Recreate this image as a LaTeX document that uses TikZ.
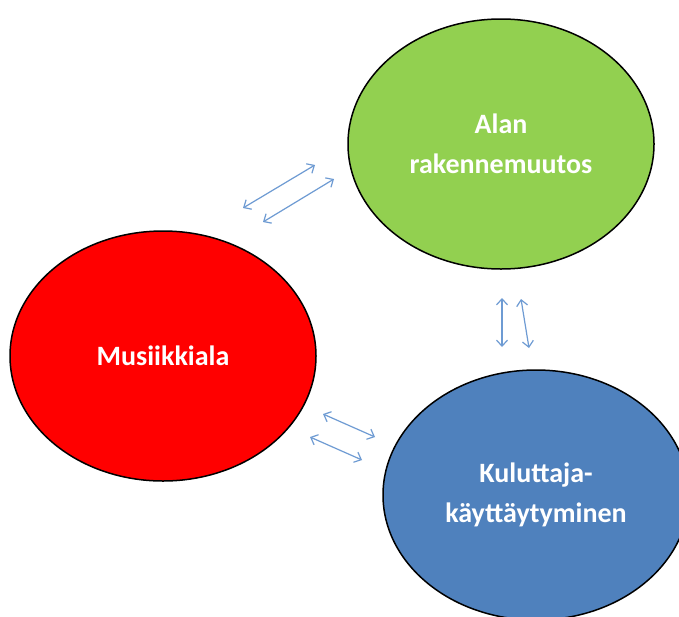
\documentclass[tikz,border=0pt]{standalone}
\usepackage{fontspec}
\setmainfont{Carlito}
\usetikzlibrary{positioning}
\usetikzlibrary{calc}
\usetikzlibrary{shapes.geometric}
\usetikzlibrary{arrows.meta}
\definecolor{greenfill}{HTML}{92D050}
\definecolor{redfill}{HTML}{FF0000}
\definecolor{bluefill}{HTML}{4F81BD}
\definecolor{linkcolor}{HTML}{6E9BD3}
\tikzstyle{bubble}=[ellipse, draw=black, line width=1.5pt, minimum width=306pt, minimum height=250pt, inner sep=0pt, align=center, text=white, font=\fontsize{28}{40}\selectfont\bfseries]
\tikzstyle{link}=[linkcolor, line width=1.2pt, {Straight Barb[length=6pt, width=11pt]}-{Straight Barb[length=6pt, width=11pt]}]

\begin{document}
\begin{tikzpicture}[x=1pt, y=-1pt]
    \useasboundingbox[fill=white] (0, 0) rectangle (679, 616);

    \node[bubble, fill=greenfill] at (501, 144) (rakenne) {Alan\\rakennemuutos};

    \node[bubble, fill=redfill] at (163, 356) (musiikki) {Musiikkiala};

    \node[bubble, fill=bluefill] at (536, 495) (kuluttaja) {Kuluttaja-\\käyttäytyminen};

    % Arrow ends
    \coordinate (musA) at (243, 208);
    \coordinate (rakA) at (315, 165);
    \coordinate (musB) at (263, 222);
    \coordinate (rakB) at (334, 179);
    \coordinate (rakC) at (502, 298);
    \coordinate (kulC) at (502, 347);
    \coordinate (rakD) at (521, 299);
    \coordinate (kulD) at (529, 348);
    \coordinate (musE) at (323, 414);
    \coordinate (kulE) at (375, 437);
    \coordinate (musF) at (310, 437);
    \coordinate (kulF) at (362, 460);

    % Arrows
    \draw[link] (musA) -- (rakA);
    \draw[link] (musB) -- (rakB);
    \draw[link] (rakC) -- (kulC);
    \draw[link] (rakD) -- (kulD);
    \draw[link] (musE) -- (kulE);
    \draw[link] (musF) -- (kulF);
\end{tikzpicture}
\end{document}
